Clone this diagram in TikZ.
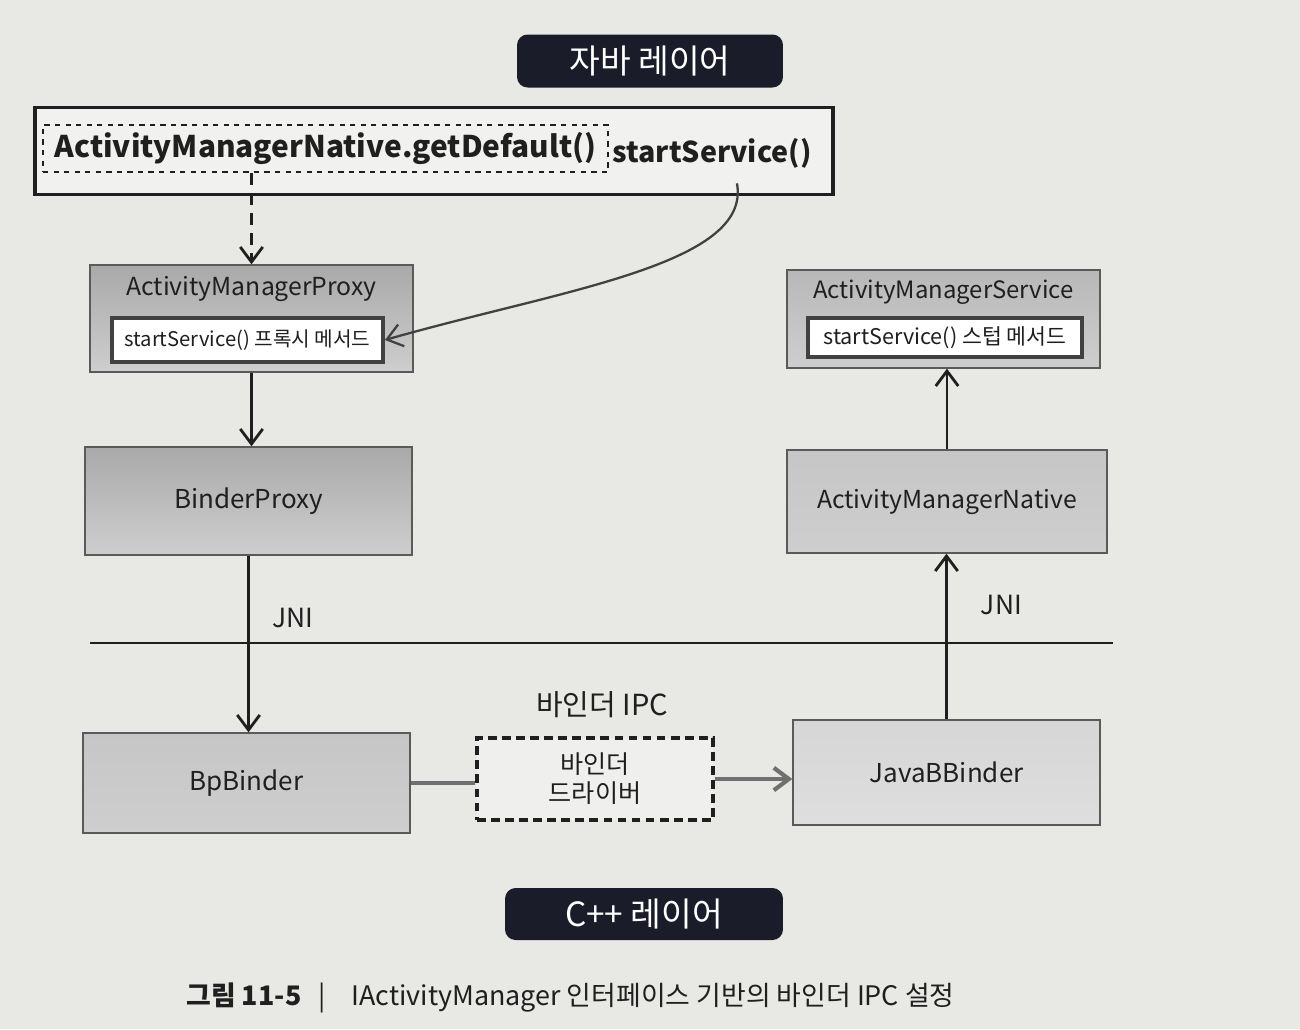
\documentclass[tikz,border=0pt]{standalone}
\usepackage{fontspec}
\setmainfont{Noto Sans CJK KR}
\usetikzlibrary{arrows.meta,positioning,calc}
\definecolor{paper}{HTML}{E8E8E5}
\definecolor{ink}{HTML}{1F1F1F}
\definecolor{night}{HTML}{1A1C29}
\definecolor{shadetop}{HTML}{A9A9A9}
\definecolor{shadebot}{HTML}{CECECE}
\definecolor{midshade}{HTML}{C6C6C6}
\definecolor{paleshade}{HTML}{D6D6D6}
\definecolor{rim}{HTML}{5A5A5A}
\definecolor{wire}{HTML}{707070}
\newcommand{\ClassFont}{\fontsize{14.8}{18}\selectfont}
\newcommand{\LongFont}{\fontsize{14.1}{17}\selectfont}

\begin{document}
\begin{tikzpicture}[x=0.02cm, y=-0.02cm, ink,
    layer/.style={fill=night, text=white, rounded corners=6pt, inner sep=0pt, font=\fontsize{19}{22}\selectfont},
    cls/.style={draw=rim, line width=0.8pt, top color=shadetop, bottom color=shadebot, inner sep=0pt, font=\ClassFont},
    stub/.style={draw=ink!85, line width=2.2pt, fill=white, inner sep=0pt, font=\fontsize{11.5}{14}\selectfont},
    go/.style={-{Straight Barb[length=3mm,width=4.5mm]}, line width=1.6pt, draw=ink},
    dgo/.style={go, dash pattern=on 2.4mm off 1.6mm},
    curve/.style={-{Straight Barb[length=3mm,width=4.5mm]}, line width=1.3pt, draw=ink!85},
    wire/.style={line width=2.4pt, draw=wire},
    lbl/.style={inner sep=0pt, font=\fontsize{15}{18}\selectfont},
  ]
% --- Background ------------------------------------------------------------------
\fill[paper] (0,0) rectangle (1300,1029);
\useasboundingbox (0,0) rectangle (1300,1029);

% --- Layers -------------------------------------------------------------------------
\node[layer, minimum width=5.32cm, minimum height=1.06cm] (java) at (650,61) {자바 레이어};
\node[layer, minimum width=5.56cm, minimum height=1.04cm] (cpp) at (644,914) {C++ 레이어};

% --- Call line -----------------------------------------------------------------------
\node[draw=ink, line width=1.8pt, fill=white!40!paper, minimum width=15.96cm, minimum height=1.74cm] (callbox) at (434,151) {};
\node[draw=ink, dashed, line width=1.2pt, inner sep=0pt, minimum width=11.3cm, minimum height=0.94cm, font=\bfseries\fontsize{17}{20}\selectfont] (getdef) at (325.5,148.5) {ActivityManagerNative.getDefault()};
\node[anchor=west, inner sep=0pt, font=\bfseries\fontsize{16.3}{20}\selectfont] (call) at (612,153) {startService()};

% --- Java side -----------------------------------------------------------------------
\node[cls, minimum width=6.46cm, minimum height=2.14cm] (proxy) at (251.5,318.5) {};
\node[font=\LongFont] (proxyname) at ([yshift=-0.5cm]proxy.north) {ActivityManagerProxy};
\node[stub, minimum width=5.42cm, minimum height=0.88cm] (proxystub) at (247.5,340) {startService() 프록시 메서드};
\node[cls, minimum width=6.54cm, minimum height=2.16cm] (bproxy) at (248.5,501) {BinderProxy};

\node[cls, top color=shadetop!60!shadebot, minimum width=6.26cm, minimum height=1.96cm] (svc) at (943.5,319) {};
\node[font=\fontsize{13.6}{16}\selectfont] (svcname) at ([yshift=-0.46cm]svc.north) {ActivityManagerService};
\node[stub, minimum width=5.48cm, minimum height=0.78cm, font=\fontsize{12.3}{15}\selectfont] (svcstub) at (945,337.5) {startService() 스텁 메서드};
\node[cls, top color=midshade, font=\LongFont, minimum width=6.4cm, minimum height=2.06cm] (native) at (947,501.5) {ActivityManagerNative};

% --- Native side ---------------------------------------------------------------------
\node[cls, top color=midshade, bottom color=shadebot, minimum width=6.54cm, minimum height=2.0cm] (bp) at (246.5,783) {BpBinder};
\node[cls, top color=paleshade, bottom color=paleshade!80!white, minimum width=6.14cm, minimum height=2.1cm] (jbb) at (946.5,772.5) {JavaBBinder};
\node[draw=ink, line width=2pt, dash pattern=on 5pt off 3pt, fill=white!30!paper, minimum width=4.72cm, minimum height=1.64cm, align=center, inner sep=0pt, font=\fontsize{14.3}{16.5}\selectfont] (drv) at (595,779) {바인더\\드라이버};
\node[lbl, font=\fontsize{16.5}{19}\selectfont, above=0.36cm of drv, xshift=0.14cm] (ipc) {바인더 IPC};

\draw[line width=1pt] (90,643) -- (1113,643);

% --- Caption -------------------------------------------------------------------------
\node[anchor=west, inner sep=0pt, font=\fontsize{15.3}{18}\selectfont] (caption) at (186,998) {\textbf{그림 11-5}\hspace{0.65em}|\hspace{0.95em}IActivityManager 인터페이스 기반의 바인더 IPC 설정};

% --- Arrows (drawn last) -------------------------------------------------------------
\draw[dgo] (proxy.north |- getdef.south) -- (proxy.north);
\draw[curve] ([xshift=0.5cm, yshift=-0.3cm]call.south) .. controls (752,265) and (560,290) .. (proxystub.east);
\draw[go] (proxy.south) -- (proxy.south |- bproxy.north);
\draw[go] (bproxy.south) -- node[lbl, pos=0.35, right=0.45cm] {JNI} (bproxy.south |- bp.north);
\draw[wire] (bp.east) -- (bp.east -| drv.west);
\draw[wire, -{Straight Barb[length=3mm,width=4.5mm]}] (drv.east) -- (drv.east -| jbb.west);
\draw[go] (jbb.north) -- node[lbl, pos=0.69, right=0.66cm] {JNI} (jbb.north |- native.south);
\draw[go] (native.north) -- (native.north |- svc.south);
\end{tikzpicture}
\end{document}
